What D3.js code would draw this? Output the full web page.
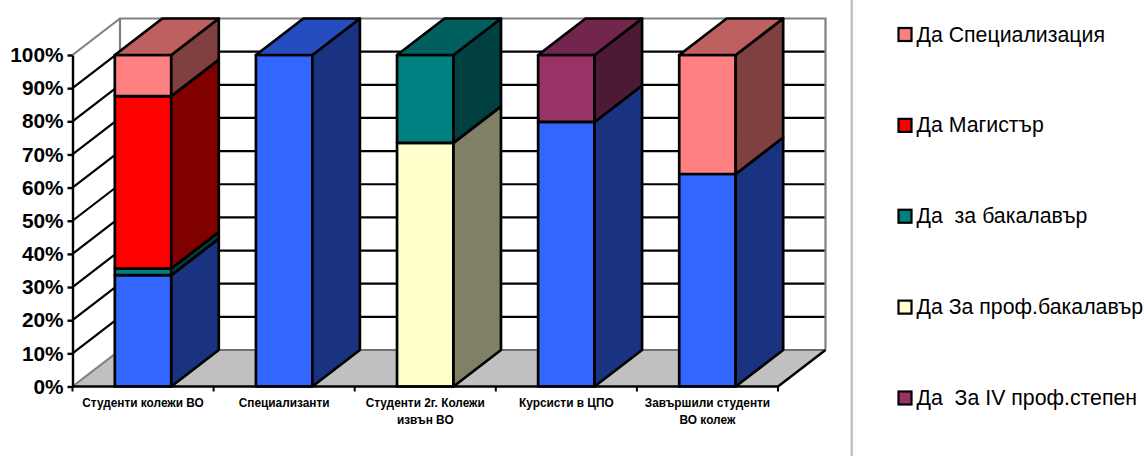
<!DOCTYPE html>
<html>
<head>
<meta charset="utf-8">
<script src="https://cdn.jsdelivr.net/npm/d3@7"></script>
<style>
  html, body { margin: 0; padding: 0; background: #fff; }
  svg { display: block; }
  text { font-family: "Liberation Sans", Arial, sans-serif; }
</style>
</head>
<body>
<div id="chart"></div>
<script>
// Values, percent of each column
const categories = ['Студенти колежи ВО', 'Специализанти', 'Студенти 2г. Колежи извън ВО', 'Курсисти в ЦПО', 'Завършили студенти ВО колеж'];
const categoryLines = [['Студенти колежи ВО'], ['Специализанти'], ['Студенти 2г. Колежи', 'извън ВО'], ['Курсисти в ЦПО'], ['Завършили студенти', 'ВО колеж']];
const seriesKeys = ['base', 'iv', 'prof', 'bak', 'mag', 'spec'];
const base = [33.6, 100, 0, 79.8, 64.1];
const iv = [0, 0, 0, 20.2, 0];
const prof = [0, 0, 73.5, 0, 0];
const bak = [2, 0, 26.5, 0, 0];
const mag = [52, 0, 0, 0, 0];
const spec = [12.4, 0, 0, 0, 35.9];
const yTicks = [0, 10, 20, 30, 40, 50, 60, 70, 80, 90, 100];
const legendLabels = ['Да Специализация', 'Да Магистър', 'Да  за бакалавър', 'Да За проф.бакалавър', 'Да  За IV проф.степен'];
const legendKeys = ['spec', 'mag', 'bak', 'prof', 'iv'];

const colors = { base: '#3366FF', iv: '#993366', prof: '#FFFFCC', bak: '#008080', mag: '#FF0000', spec: '#FF8080' };
const width = 1144, height = 456;

// Front plane of the 3D box, back plane is shifted by depth
const plotLeft = 72.5, plotRight = 778, plotTop = 55, plotBottom = 386.5;
const depthX = 47.5, depthY = -36.5;

const x = d3.scaleBand().domain(categories).range([plotLeft, plotRight]).paddingInner(0.6).paddingOuter(0.3);
const y = d3.scaleLinear().domain([0, 100]).range([plotBottom, plotTop]);

const rows = categories.map((c, i) => ({ category: c, base: base[i], iv: iv[i], prof: prof[i], bak: bak[i], mag: mag[i], spec: spec[i] }));
const stacked = d3.stack().keys(seriesKeys)(rows);

const svg = d3.select('#chart').append('svg').attr('width', width).attr('height', height);

const points = pts => pts.map(p => p.join(',')).join(' ');

// Floor
svg.append('polygon')
    .attr('points', points([[plotLeft, plotBottom], [plotRight, plotBottom], [plotRight + depthX, plotBottom + depthY], [plotLeft + depthX, plotBottom + depthY]]))
    .attr('fill', '#C0C0C0');

// Gridlines on the side wall and the back wall
const grid = svg.append('g').attr('stroke', '#000').attr('stroke-width', 2.2);
yTicks.filter(t => t > 0 && t < 100).forEach(t => {
    grid.append('line').attr('x1', plotLeft).attr('y1', y(t)).attr('x2', plotLeft + depthX).attr('y2', y(t) + depthY);
    grid.append('line').attr('x1', plotLeft + depthX).attr('y1', y(t) + depthY).attr('x2', plotRight + depthX).attr('y2', y(t) + depthY);
});

// Walls outline
svg.append('polyline')
    .attr('points', points([[plotLeft, plotBottom], [plotLeft + depthX, plotBottom + depthY], [plotLeft + depthX, plotTop + depthY], [plotRight + depthX, plotTop + depthY], [plotRight + depthX, plotBottom + depthY]]))
    .attr('fill', 'none').attr('stroke', '#808080').attr('stroke-width', 2.2);
svg.append('line')
    .attr('x1', plotLeft + depthX).attr('y1', plotBottom + depthY).attr('x2', plotRight + depthX).attr('y2', plotBottom + depthY)
    .attr('stroke', '#707070').attr('stroke-width', 2.2);
svg.append('line')
    .attr('x1', plotLeft).attr('y1', plotTop).attr('x2', plotLeft + depthX).attr('y2', plotTop + depthY)
    .attr('stroke', '#808080').attr('stroke-width', 2.2);
svg.append('line')
    .attr('x1', plotRight).attr('y1', plotBottom).attr('x2', plotRight + depthX).attr('y2', plotBottom + depthY)
    .attr('stroke', '#000').attr('stroke-width', 2.4);

// Columns, drawn bottom segment first
const bars = svg.append('g').attr('stroke', '#000').attr('stroke-width', 2.7).attr('stroke-linejoin', 'round');
categories.forEach((c, i) => {
    const x0 = x(c), x1 = x0 + x.bandwidth();
    const topKey = seriesKeys.filter(k => rows[i][k] > 0).pop();
    stacked.forEach(s => {
        const [v0, v1] = s[i];
        if (v1 <= v0) return;
        const col = colors[s.key];
        bars.append('rect')
            .attr('x', x0).attr('y', y(v1)).attr('width', x1 - x0).attr('height', y(v0) - y(v1))
            .attr('fill', col);
        bars.append('polygon')
            .attr('points', points([[x1, y(v0)], [x1, y(v1)], [x1 + depthX, y(v1) + depthY], [x1 + depthX, y(v0) + depthY]]))
            .attr('fill', d3.interpolateRgb(col, '#000')(0.5));
        if (s.key === topKey) {
            bars.append('polygon')
                .attr('points', points([[x0, y(v1)], [x1, y(v1)], [x1 + depthX, y(v1) + depthY], [x0 + depthX, y(v1) + depthY]]))
                .attr('fill', d3.interpolateRgb(col, '#000')(0.25));
        }
    });
});

// Value axis
const yAxis = svg.append('g')
    .attr('transform', `translate(${plotLeft},0)`)
    .call(d3.axisLeft(y).tickValues(yTicks).tickFormat(d => d + '%').tickSize(5).tickSizeOuter(0).tickPadding(4));
yAxis.selectAll('path,line').attr('stroke', '#000').attr('stroke-width', 2.4);
yAxis.selectAll('text').attr('font-size', 20.8).attr('font-weight', 'bold').attr('fill', '#000').style('font-family', '"Liberation Sans", Arial, sans-serif');

// Category axis: ticks sit on the band edges
const edge = d3.scaleLinear().domain([0, categories.length]).range([plotLeft, plotRight]);
svg.append('line')
    .attr('x1', plotLeft).attr('y1', plotBottom).attr('x2', plotRight).attr('y2', plotBottom)
    .attr('stroke', '#000').attr('stroke-width', 2.4);
d3.range(categories.length + 1).forEach(i => {
    svg.append('line')
        .attr('x1', edge(i)).attr('y1', plotBottom).attr('x2', edge(i)).attr('y2', plotBottom + 5)
        .attr('stroke', '#000').attr('stroke-width', 2);
});
categories.forEach((c, i) => {
    const label = svg.append('text')
        .attr('text-anchor', 'middle')
        .attr('font-size', 11.85).attr('font-weight', 'bold').attr('fill', '#000');
    categoryLines[i].forEach((line, j) => {
        label.append('tspan')
            .attr('x', x(c) + x.bandwidth() / 2)
            .attr('y', 407 + j * 17)
            .text(line);
    });
});

// Divider and legend
svg.append('line')
    .attr('x1', 851.7).attr('y1', 0).attr('x2', 851.7).attr('y2', height)
    .attr('stroke', '#C0C0C0').attr('stroke-width', 2.4);

const legendY = d3.scalePoint().domain(legendKeys).range([34.5, 398]);
const legend = svg.append('g');
legendKeys.forEach((k, i) => {
    legend.append('rect')
        .attr('x', 898.5).attr('y', legendY(k) - 6.5).attr('width', 13).attr('height', 13)
        .attr('fill', colors[k]).attr('stroke', '#000').attr('stroke-width', 2.2);
    legend.append('text')
        .attr('x', 916.5).attr('y', legendY(k) + 7)
        .attr('font-size', 21.3).attr('fill', '#000')
        .style('white-space', 'pre')
        .text(legendLabels[i]);
});
</script>
</body>
</html>
